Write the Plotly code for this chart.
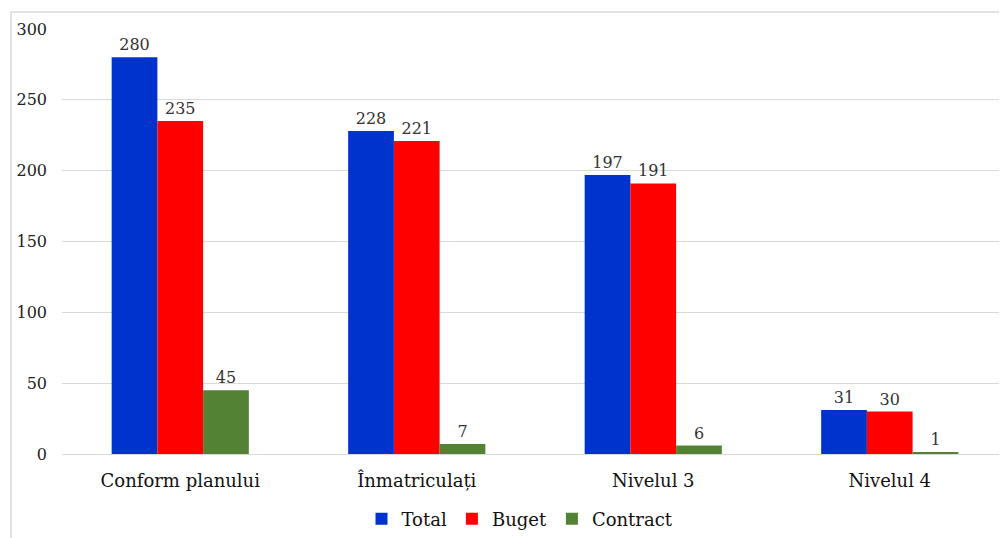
import plotly.graph_objects as go

categories = ["Conform planului", "Înmatriculați", "Nivelul 3", "Nivelul 4"]
total = [280, 228, 197, 31]
buget = [235, 221, 191, 30]
contract = [45, 7, 6, 1]
y_ticks = [0, 50, 100, 150, 200, 250, 300]

series = [("Total", total, "#0033CC"), ("Buget", buget, "#FF0000"), ("Contract", contract, "#548235")]

SERIF = "DejaVu Serif"

L, R, T, B = 54, 7, 21, 92
W, H = 1007, 538
pw = W - L - R
ph = H - T - B

fig = go.Figure()
for name, vals, color in series:
    fig.add_trace(go.Bar(
        x=categories, y=vals, name=name,
        marker=dict(color=color, line=dict(width=0)),
        text=[str(v) for v in vals], textposition="outside",
        textfont=dict(family=SERIF, size=16, color="#333333"),
        cliponaxis=False,
    ))

fig.update_layout(
    width=W, height=H,
    margin=dict(l=L, r=R, t=T, b=B),
    paper_bgcolor="white", plot_bgcolor="white",
    barmode="group", bargap=0.42, bargroupgap=0,
    font=dict(family=SERIF, color="#222222"),
    xaxis=dict(range=[-0.5, 3.5], showline=False, ticks="",
               tickfont=dict(family=SERIF, size=18, color="#111111"), ticklabelstandoff=14),
    yaxis=dict(range=[0, 300], tickvals=y_ticks, showgrid=True, gridcolor="#D9D9D9",
               gridwidth=1, zeroline=True, zerolinecolor="#D9D9D9", zerolinewidth=1,
               tickfont=dict(family=SERIF, size=16, color="#222222"), ticklabelstandoff=14),
    legend=dict(orientation="h", x=(512 - L) / pw, xanchor="center", y=(ph - (511 - T)) / ph,
                yanchor="middle",
                font=dict(family=SERIF, size=18, color="#111111"), itemwidth=30,
                traceorder="normal"),
    shapes=[dict(type="rect", xref="paper", yref="paper",
                 x0=(3 - L) / pw, x1=1.05, y0=-0.3, y1=(ph - (4 - T)) / ph,
                 line=dict(color="#D9D9D9", width=1.5), layer="below")],
)

fig.write_html("out.html")
